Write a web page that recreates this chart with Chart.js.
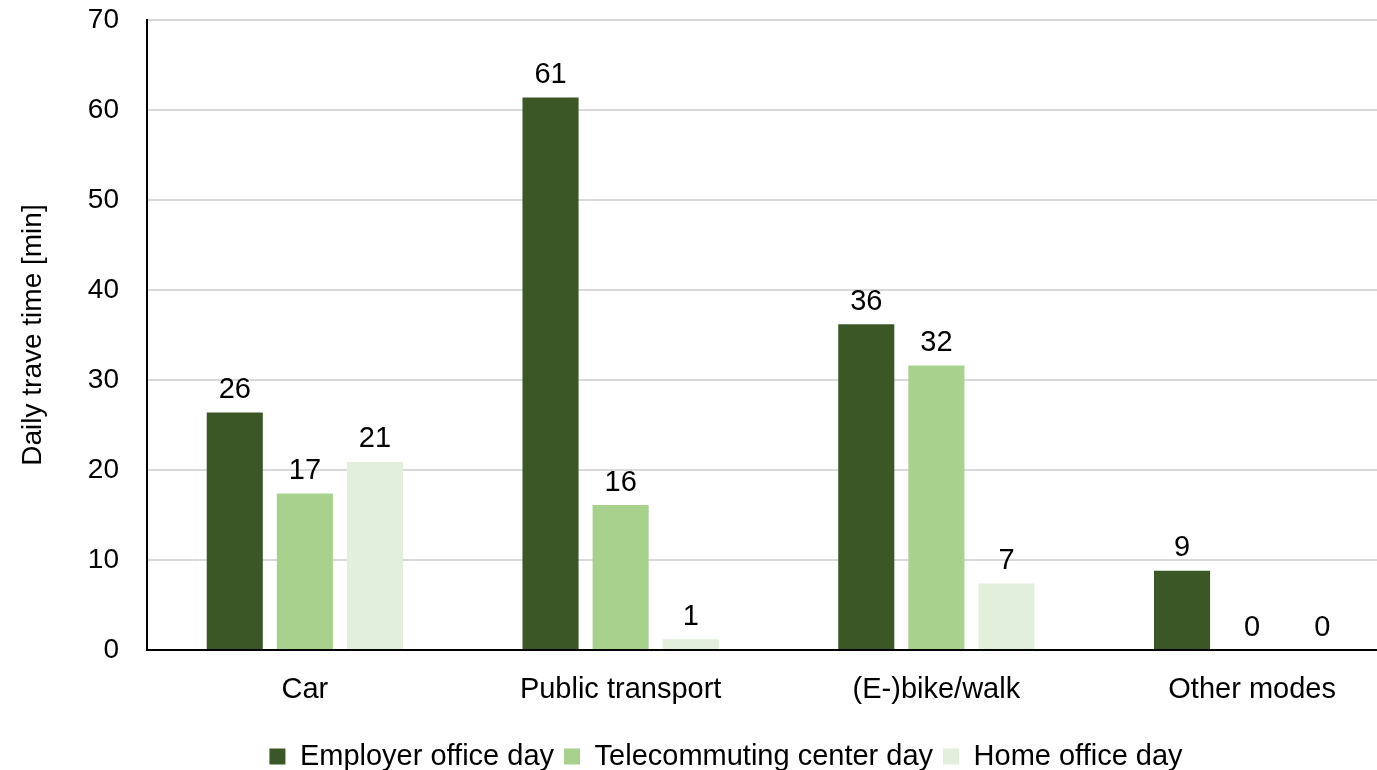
<!DOCTYPE html>
<html lang="en">

<head>
    <meta charset="UTF-8">
    <title>Daily travel time</title>
    <style>
        body {
            margin: 0;
            background: #fff;
            overflow: hidden;
        }
    </style>
</head>

<body>
    <canvas id="myChart" width="1410" height="770"></canvas>

    <script src="https://cdn.jsdelivr.net/npm/chart.js"></script>
    <script>
        // values
        const categories = ['Car', 'Public transport', '(E-)bike/walk', 'Other modes']
        const seriesNames = ['Employer office day', 'Telecommuting center day', 'Home office day']
        const employerDay = [26.4, 61.4, 36.2, 8.8]
        const telecommutingDay = [17.4, 16.1, 31.6, 0]
        const homeOfficeDay = [20.9, 1.2, 7.4, 0]
        const yTicks = [0, 10, 20, 30, 40, 50, 60, 70]

        const colors = ['#3b5726', '#a9d18e', '#e2efda']
        const fontFamily = '"Liberation Sans", Arial, sans-serif'

        // numbers above the bars
        const barValues = {
            id: 'barValues',
            afterDatasetsDraw(chart) {
                const c = chart.ctx
                c.save()
                c.font = '29px ' + fontFamily
                c.fillStyle = '#000'
                c.textAlign = 'center'
                c.textBaseline = 'bottom'
                chart.data.datasets.forEach((ds, i) => {
                    chart.getDatasetMeta(i).data.forEach((bar, j) => {
                        c.fillText(Math.round(ds.data[j]), bar.x, bar.y - 8)
                    })
                })
                c.restore()
            }
        }

        const ctx = document.getElementById('myChart').getContext('2d')
        const myChart = new Chart(ctx, {
            type: 'bar',
            data: {
                labels: categories,
                datasets: [employerDay, telecommutingDay, homeOfficeDay].map((d, i) => ({
                    label: seriesNames[i],
                    data: d,
                    backgroundColor: colors[i],
                    categoryPercentage: 0.666,
                    barPercentage: 0.8
                }))
            },
            options: {
                responsive: false,
                animation: false,
                layout: {
                    padding: { top: 20, left: 42, right: 0, bottom: -11 }
                },
                plugins: {
                    tooltip: { enabled: false },
                    legend: {
                        position: 'bottom',
                        labels: {
                            boxWidth: 16,
                            boxHeight: 16,
                            padding: 10,
                            color: '#000',
                            font: { size: 29, family: fontFamily }
                        }
                    }
                },
                scales: {
                    x: {
                        grid: { display: false },
                        border: { color: '#000', width: 2 },
                        ticks: {
                            color: '#000',
                            padding: 15,
                            font: { size: 29, family: fontFamily }
                        },
                        afterFit(scale) {
                            scale.height = 82
                        }
                    },
                    y: {
                        min: 0,
                        max: 70,
                        afterBuildTicks(scale) {
                            scale.ticks = yTicks.map(v => ({ value: v }))
                        },
                        grid: { color: '#d9d9d9', lineWidth: 2, drawTicks: false },
                        border: { color: '#000', width: 2 },
                        ticks: {
                            color: '#000',
                            padding: 28,
                            font: { size: 28, family: fontFamily }
                        },
                        title: {
                            display: true,
                            text: 'Daily trave time [min]',
                            color: '#000',
                            padding: { top: -26, bottom: 0 },
                            font: { size: 28, family: fontFamily }
                        },
                        afterFit(scale) {
                            scale.width = 105
                            scale.paddingTop = 0
                            scale.paddingBottom = 0
                        }
                    }
                }
            },
            plugins: [barValues]
        })
    </script>
</body>

</html>
